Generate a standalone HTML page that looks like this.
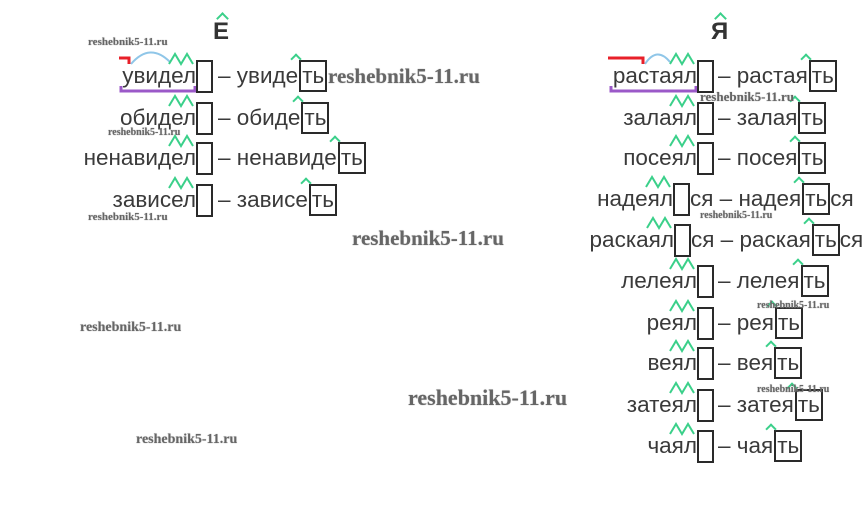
<!DOCTYPE html>
<html><head><meta charset="utf-8">
<style>
body{margin:0;width:867px;height:506px;background:#fff;position:relative;overflow:hidden;font-family:"Liberation Sans","Noto Sans CJK SC",sans-serif;color:#3a3a3a}
.a{position:absolute;white-space:nowrap;font-size:22.5px;line-height:32px}
.b{position:absolute;width:13px;height:29px;border:2px solid #2a2a2a}
.b svg{position:absolute;left:-29px;top:-8px;overflow:visible}
.e{position:relative;display:inline-block;border:2px solid #2a2a2a;height:28px;line-height:28px;padding:0 1px;margin-left:1px}
.e::before{content:"";position:absolute;left:-9px;top:-7px;width:6px;height:6px;border-left:2px solid #3bd08a;border-top:2px solid #3bd08a;transform:rotate(45deg)}
.w{position:absolute;font-family:"Liberation Serif",serif;font-weight:bold;color:#666;white-space:nowrap;text-shadow:0 0 1px #999}
.h{position:absolute;font-size:24px;font-weight:bold;color:#333}
.c{position:absolute;width:7px;height:7px;border-left:2px solid #3bd08a;border-top:2px solid #3bd08a;transform:rotate(45deg)}
</style></head><body>

<div class="h" style="left:213px;top:18px">Е</div><div class="c" style="left:218px;top:14px"></div>
<div class="h" style="left:711px;top:18px">Я</div><div class="c" style="left:716px;top:14px"></div>

<svg width="867" height="506" style="position:absolute;left:0;top:0">
<path d="M119 58 H129 V64" stroke="#e8202a" stroke-width="3" fill="none"/>
<path d="M131 64 Q150 42 170 62" stroke="#8fc6e8" stroke-width="2" fill="none"/>
<path d="M121 86 V91 H195 V86" stroke="#9b59c8" stroke-width="3" fill="none"/>
<path d="M608 58 H643 V64" stroke="#e8202a" stroke-width="3" fill="none"/>
<path d="M645 64 Q657 46 670 62" stroke="#8fc6e8" stroke-width="2" fill="none"/>
<path d="M611 86 V91 H696 V86" stroke="#9b59c8" stroke-width="3" fill="none"/>
</svg>

<!-- left rows -->
<div class="a" style="right:671px;top:60px">увидел</div><div class="b" style="left:196px;top:60px"><svg width="1" height="1"><polyline points="0,10 6,0 12,10 18,0 24,10" fill="none" stroke="#3bd08a" stroke-width="2"/></svg></div><div class="a" style="left:218px;top:60px">– увиде<span class="e">ть</span></div>
<div class="a" style="right:671px;top:102px">обидел</div><div class="b" style="left:196px;top:102px"><svg width="1" height="1"><polyline points="0,10 6,0 12,10 18,0 24,10" fill="none" stroke="#3bd08a" stroke-width="2"/></svg></div><div class="a" style="left:218px;top:102px">– обиде<span class="e">ть</span></div>
<div class="a" style="right:671px;top:142px">ненавидел</div><div class="b" style="left:196px;top:142px"><svg width="1" height="1"><polyline points="0,10 6,0 12,10 18,0 24,10" fill="none" stroke="#3bd08a" stroke-width="2"/></svg></div><div class="a" style="left:218px;top:142px">– ненавиде<span class="e">ть</span></div>
<div class="a" style="right:671px;top:184px">зависел</div><div class="b" style="left:196px;top:184px"><svg width="1" height="1"><polyline points="0,10 6,0 12,10 18,0 24,10" fill="none" stroke="#3bd08a" stroke-width="2"/></svg></div><div class="a" style="left:218px;top:184px">– зависе<span class="e">ть</span></div>

<!-- right rows -->
<div class="a" style="right:170px;top:60px">растаял</div><div class="b" style="left:697px;top:60px"><svg width="1" height="1"><polyline points="0,10 6,0 12,10 18,0 24,10" fill="none" stroke="#3bd08a" stroke-width="2"/></svg></div><div class="a" style="left:718px;top:60px">– растая<span class="e">ть</span></div>
<div class="a" style="right:170px;top:102px">залаял</div><div class="b" style="left:697px;top:102px"><svg width="1" height="1"><polyline points="0,10 6,0 12,10 18,0 24,10" fill="none" stroke="#3bd08a" stroke-width="2"/></svg></div><div class="a" style="left:718px;top:102px">– залая<span class="e">ть</span></div>
<div class="a" style="right:170px;top:142px">посеял</div><div class="b" style="left:697px;top:142px"><svg width="1" height="1"><polyline points="0,10 6,0 12,10 18,0 24,10" fill="none" stroke="#3bd08a" stroke-width="2"/></svg></div><div class="a" style="left:718px;top:142px">– посея<span class="e">ть</span></div>
<div class="a" style="right:194px;top:183px">надеял</div><div class="b" style="left:673px;top:183px"><svg width="1" height="1"><polyline points="0,10 6,0 12,10 18,0 24,10" fill="none" stroke="#3bd08a" stroke-width="2"/></svg></div><div class="a" style="left:690px;top:183px">ся – надея<span class="e">ть</span>ся</div>
<div class="a" style="right:193px;top:224px">раскаял</div><div class="b" style="left:674px;top:224px"><svg width="1" height="1"><polyline points="0,10 6,0 12,10 18,0 24,10" fill="none" stroke="#3bd08a" stroke-width="2"/></svg></div><div class="a" style="left:691px;top:224px">ся – раская<span class="e">ть</span>ся</div>
<div class="a" style="right:170px;top:265px">лелеял</div><div class="b" style="left:697px;top:265px"><svg width="1" height="1"><polyline points="0,10 6,0 12,10 18,0 24,10" fill="none" stroke="#3bd08a" stroke-width="2"/></svg></div><div class="a" style="left:718px;top:265px">– лелея<span class="e">ть</span></div>
<div class="a" style="right:170px;top:307px">реял</div><div class="b" style="left:697px;top:307px"><svg width="1" height="1"><polyline points="0,10 6,0 12,10 18,0 24,10" fill="none" stroke="#3bd08a" stroke-width="2"/></svg></div><div class="a" style="left:718px;top:307px">– рея<span class="e">ть</span></div>
<div class="a" style="right:170px;top:347px">веял</div><div class="b" style="left:697px;top:347px"><svg width="1" height="1"><polyline points="0,10 6,0 12,10 18,0 24,10" fill="none" stroke="#3bd08a" stroke-width="2"/></svg></div><div class="a" style="left:718px;top:347px">– вея<span class="e">ть</span></div>
<div class="a" style="right:170px;top:389px">затеял</div><div class="b" style="left:697px;top:389px"><svg width="1" height="1"><polyline points="0,10 6,0 12,10 18,0 24,10" fill="none" stroke="#3bd08a" stroke-width="2"/></svg></div><div class="a" style="left:718px;top:389px">– затея<span class="e">ть</span></div>
<div class="a" style="right:170px;top:430px">чаял</div><div class="b" style="left:697px;top:430px"><svg width="1" height="1"><polyline points="0,10 6,0 12,10 18,0 24,10" fill="none" stroke="#3bd08a" stroke-width="2"/></svg></div><div class="a" style="left:718px;top:430px">– чая<span class="e">ть</span></div>

<!-- watermarks -->
<div class="w" style="left:88px;top:36px;font-size:11px">reshebnik5-11.ru</div>
<div class="w" style="left:108px;top:127px;font-size:10px">reshebnik5-11.ru</div>
<div class="w" style="left:88px;top:211px;font-size:11px">reshebnik5-11.ru</div>
<div class="w" style="left:328px;top:64px;font-size:21px">reshebnik5-11.ru</div>
<div class="w" style="left:352px;top:226px;font-size:21px">reshebnik5-11.ru</div>
<div class="w" style="left:408px;top:385px;font-size:22px">reshebnik5-11.ru</div>
<div class="w" style="left:700px;top:89px;font-size:13px">reshebnik5-11.ru</div>
<div class="w" style="left:700px;top:210px;font-size:10px">reshebnik5-11.ru</div>
<div class="w" style="left:757px;top:300px;font-size:10px">reshebnik5-11.ru</div>
<div class="w" style="left:757px;top:384px;font-size:10px">reshebnik5-11.ru</div>
<div class="w" style="left:80px;top:320px;font-size:14px">reshebnik5-11.ru</div>
<div class="w" style="left:136px;top:432px;font-size:14px">reshebnik5-11.ru</div>
</body></html>
